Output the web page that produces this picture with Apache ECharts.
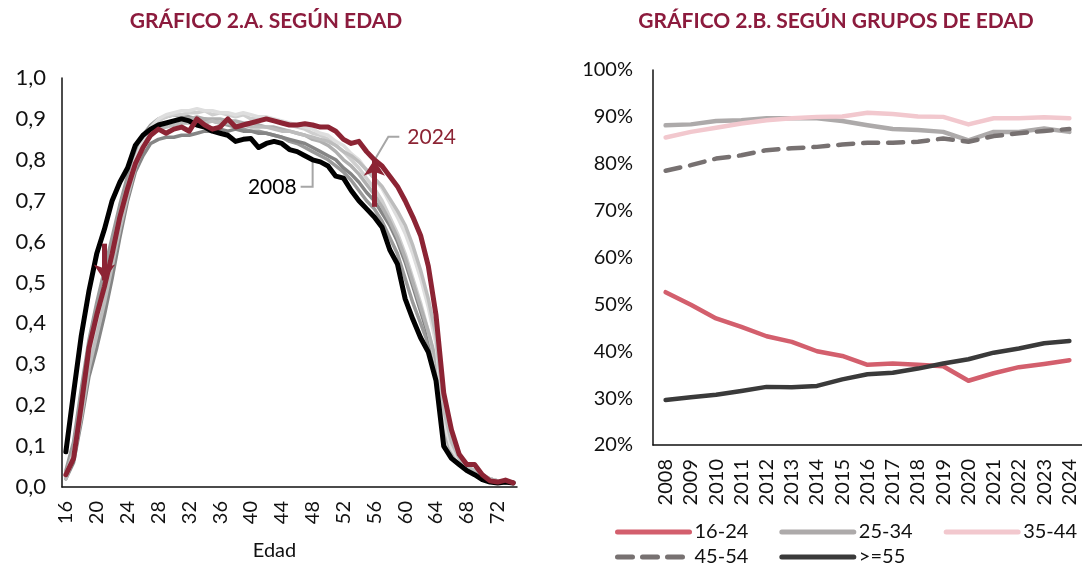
<!DOCTYPE html>
<html>
<head>
<meta charset="utf-8">
<script src="https://cdn.jsdelivr.net/npm/echarts@6/dist/echarts.min.js"></script>
<style>
  html, body { margin: 0; padding: 0; background: #fff; }
  #main { width: 1082px; height: 567px; }
</style>
</head>
<body>
<div id="main"></div>
<script>
// --- Gráfico 2.A: tasa por edad ---
const edades = ['16','17','18','19','20','21','22','23','24','25','26','27','28','29','30','31','32','33','34','35',
  '36','37','38','39','40','41','42','43','44','45','46','47','48','49','50','51','52','53','54','55',
  '56','57','58','59','60','61','62','63','64','65','66','67','68','69','70','71','72','73','74']

const y2008 = [0.086,0.23,0.37,0.48,0.57,0.63,0.70,0.745,0.78,0.835,0.86,0.875,0.885,0.89,0.895,0.90,0.895,0.885,0.88,0.87,
  0.865,0.86,0.845,0.85,0.852,0.83,0.84,0.845,0.84,0.825,0.82,0.81,0.80,0.795,0.785,0.76,0.755,0.725,0.70,0.68,
  0.66,0.635,0.58,0.545,0.46,0.41,0.365,0.33,0.26,0.10,0.07,0.055,0.04,0.03,0.018,0.012,0.01,0.012,0.01]

const y2024 = [0.03,0.07,0.20,0.34,0.42,0.49,0.57,0.66,0.73,0.79,0.83,0.86,0.875,0.865,0.875,0.88,0.87,0.90,0.885,0.875,
  0.88,0.90,0.88,0.885,0.89,0.895,0.90,0.895,0.89,0.885,0.885,0.888,0.885,0.88,0.88,0.87,0.85,0.84,0.845,0.82,
  0.80,0.785,0.76,0.735,0.70,0.66,0.615,0.54,0.42,0.23,0.14,0.08,0.055,0.055,0.03,0.015,0.012,0.017,0.01]

// años intermedios (banda gris)
const y2010 = [0.04,0.11,0.24,0.36,0.45,0.53,0.61,0.69,0.76,0.82,0.86,0.885,0.90,0.905,0.91,0.905,0.905,0.90,0.90,0.895,
  0.89,0.885,0.88,0.875,0.87,0.87,0.865,0.86,0.855,0.845,0.84,0.83,0.82,0.81,0.80,0.785,0.77,0.75,0.725,0.70,
  0.68,0.65,0.61,0.57,0.51,0.45,0.40,0.35,0.28,0.12,0.08,0.055,0.045,0.03,0.02,0.015,0.012,0.01,0.01]
const y2013 = [0.02,0.06,0.16,0.27,0.34,0.42,0.51,0.61,0.70,0.77,0.81,0.84,0.85,0.855,0.855,0.86,0.86,0.865,0.87,0.87,
  0.875,0.87,0.875,0.87,0.87,0.865,0.865,0.86,0.855,0.85,0.845,0.84,0.83,0.82,0.81,0.80,0.78,0.765,0.745,0.72,
  0.70,0.67,0.64,0.60,0.55,0.49,0.43,0.37,0.30,0.15,0.09,0.06,0.045,0.035,0.025,0.02,0.015,0.012,0.01]
const y2016 = [0.03,0.08,0.18,0.30,0.38,0.46,0.55,0.64,0.72,0.79,0.84,0.875,0.895,0.905,0.91,0.91,0.915,0.915,0.92,0.91,
  0.915,0.91,0.905,0.91,0.90,0.905,0.90,0.895,0.89,0.885,0.88,0.875,0.865,0.86,0.85,0.835,0.82,0.80,0.78,0.755,
  0.73,0.70,0.66,0.62,0.57,0.51,0.45,0.38,0.30,0.13,0.08,0.06,0.045,0.035,0.025,0.02,0.015,0.012,0.01]
const y2018 = [0.03,0.09,0.21,0.33,0.41,0.49,0.58,0.67,0.74,0.80,0.845,0.87,0.885,0.89,0.895,0.90,0.90,0.905,0.90,0.90,
  0.90,0.895,0.895,0.89,0.89,0.885,0.88,0.88,0.875,0.87,0.865,0.86,0.85,0.845,0.835,0.82,0.80,0.785,0.765,0.74,
  0.715,0.685,0.65,0.61,0.56,0.50,0.44,0.38,0.31,0.14,0.085,0.06,0.045,0.035,0.025,0.02,0.015,0.012,0.01]
const y2020 = [0.03,0.08,0.19,0.31,0.39,0.47,0.56,0.65,0.73,0.80,0.85,0.88,0.90,0.91,0.915,0.92,0.92,0.925,0.92,0.92,
  0.915,0.915,0.91,0.915,0.91,0.905,0.905,0.90,0.895,0.89,0.885,0.88,0.875,0.865,0.86,0.845,0.835,0.815,0.80,0.775,
  0.755,0.73,0.695,0.66,0.62,0.57,0.51,0.44,0.35,0.16,0.095,0.065,0.05,0.04,0.03,0.02,0.015,0.015,0.01]
const y2022 = [0.02,0.07,0.17,0.29,0.37,0.45,0.54,0.63,0.71,0.78,0.83,0.86,0.875,0.88,0.885,0.89,0.89,0.895,0.89,0.895,
  0.89,0.89,0.885,0.885,0.88,0.88,0.88,0.875,0.87,0.87,0.865,0.86,0.855,0.85,0.845,0.835,0.82,0.81,0.795,0.775,
  0.755,0.735,0.705,0.675,0.64,0.59,0.53,0.46,0.37,0.19,0.11,0.07,0.05,0.04,0.03,0.02,0.015,0.012,0.01]

const grises = [
  {name: '2010', data: y2010, color: '#9a9a9a'},
  {name: '2013', data: y2013, color: '#858585'},
  {name: '2016', data: y2016, color: '#cfcfcf'},
  {name: '2018', data: y2018, color: '#b0b0b0'},
  {name: '2020', data: y2020, color: '#dedede'},
  {name: '2022', data: y2022, color: '#bdbdbd'}
]

// --- Gráfico 2.B: por grupos de edad ---
const anios = ['2008','2009','2010','2011','2012','2013','2014','2015','2016','2017','2018','2019','2020','2021','2022','2023','2024']
const g16_24 = [52.6,49.9,47.0,45.2,43.2,42.0,40.0,39.0,37.1,37.4,37.1,36.8,33.7,35.3,36.6,37.3,38.1]
const g25_34 = [88.2,88.4,89.1,89.3,89.7,89.7,89.7,89.1,88.2,87.4,87.2,86.8,85.0,86.8,86.8,87.5,86.8]
const g35_44 = [85.6,86.8,87.7,88.6,89.3,89.7,90.0,90.1,90.9,90.6,90.1,90.0,88.4,89.7,89.7,89.9,89.7]
const g45_54 = [78.5,79.7,81.1,81.8,82.9,83.3,83.6,84.1,84.5,84.5,84.7,85.4,84.7,85.9,86.5,87.0,87.4]
const g55 = [29.6,30.2,30.7,31.5,32.4,32.3,32.6,34.0,35.1,35.4,36.3,37.4,38.3,39.7,40.6,41.7,42.2]

const ROJO = '#8c2434'
const FONT = 'Lato, "Open Sans", sans-serif'

let chart = echarts.init(document.getElementById('main'))

function lineSerie (name, data, color, width, x, extra) {
  return Object.assign({
    name: name,
    type: 'line',
    xAxisIndex: x,
    yAxisIndex: x,
    data: data,
    symbol: 'none',
    smooth: false,
    silent: true,
    lineStyle: {color: color, width: width, cap: 'round', join: 'round'},
    itemStyle: {color: color}
  }, extra || {})
}

let series = []
grises.forEach((g) => {
  series.push(lineSerie(g.name, g.data, g.color, 3.5, 0))
})
series.push(lineSerie('2008', y2008, '#000000', 5, 0))
series.push(lineSerie('2024', y2024, ROJO, 5, 0, {
  markLine: {
    silent: true,
    symbol: ['none', 'arrow'],
    symbolSize: [16, 16],
    label: {show: false},
    lineStyle: {color: ROJO, width: 5, type: 'solid'},
    data: [
      [{coord: ['56', 0.685]}, {coord: ['56', 0.80]}],
      [{coord: ['21', 0.595]}, {coord: ['21', 0.505]}]
    ]
  }
}))
series.push(lineSerie('16-24', g16_24, '#d35f6d', 4.5, 1))
series.push(lineSerie('25-34', g25_34, '#adaaaa', 4.5, 1))
series.push(lineSerie('35-44', g35_44, '#f2c8ce', 4.5, 1))
series.push(lineSerie('45-54', g45_54, '#777171', 4.5, 1, {
  lineStyle: {color: '#777171', width: 4.5, type: [15, 10], cap: 'round'}
}))
series.push(lineSerie('>=55', g55, '#3a3a3a', 4.5, 1))

const axisLabel = {color: '#111', fontFamily: FONT, fontSize: 20}
const axisLine = {show: true, lineStyle: {color: '#111', width: 1.5}}

let legendBase = {
  left: 615,
  padding: 0,
  itemWidth: 72,
  itemHeight: 14,
  itemGap: 31,
  itemStyle: {opacity: 0},
  lineStyle: {width: 5},
  textStyle: {color: '#111', fontFamily: FONT, fontSize: 20, width: 60}
}

let option = {
  animation: false,
  backgroundColor: '#fff',
  grid: [
    {left: 62, top: 78, width: 455, height: 409, outerBoundsMode: 'none', containLabel: false},
    {left: 653, top: 70, width: 429, height: 375, outerBoundsMode: 'none', containLabel: false}
  ],
  xAxis: [
    {
      type: 'category', gridIndex: 0, data: edades, boundaryGap: true,
      axisLine: axisLine, axisTick: {show: false},
      axisLabel: Object.assign({}, axisLabel, {rotate: 90, interval: 3, margin: 14}),
      name: 'Edad', nameLocation: 'middle', nameGap: 54,
      nameTextStyle: {color: '#111', fontFamily: FONT, fontSize: 20, padding: [0, 30, 0, 0]}
    },
    {
      type: 'category', gridIndex: 1, data: anios, boundaryGap: true,
      axisLine: axisLine, axisTick: {show: false},
      axisLabel: Object.assign({}, axisLabel, {rotate: 90, interval: 0, margin: 14})
    }
  ],
  yAxis: [
    {
      type: 'value', gridIndex: 0, min: 0, max: 1, interval: 0.1,
      axisLine: axisLine, axisTick: {show: false}, splitLine: {show: false},
      axisLabel: Object.assign({}, axisLabel, {
        fontSize: 22,
        margin: 16,
        formatter: (v) => v.toFixed(1).replace('.', ',')
      })
    },
    {
      type: 'value', gridIndex: 1, min: 20, max: 100, interval: 10,
      axisLine: axisLine, axisTick: {show: false}, splitLine: {show: false},
      axisLabel: Object.assign({}, axisLabel, {margin: 20, formatter: '{value}%'})
    }
  ],
  legend: [
    Object.assign({}, legendBase, {top: 522, data: ['16-24', '25-34', '35-44']}),
    Object.assign({}, legendBase, {top: 547, data: ['45-54', '>=55']})
  ],
  series: series
}

chart.setOption(option)

// anotaciones: títulos, etiquetas 2008 / 2024 con sus guías
let p08 = chart.convertToPixel({xAxisIndex: 0, yAxisIndex: 0}, ['48', 0.80])
let p24 = chart.convertToPixel({xAxisIndex: 0, yAxisIndex: 0}, ['56', 0.80])
const guia = {stroke: '#a6a6a6', lineWidth: 2, fill: null}
const tituloFont = 'bold 21px ' + FONT

chart.setOption({
  graphic: [
    {type: 'text', x: 266, y: 21, style: {text: 'GRÁFICO 2.A. SEGÚN EDAD', fill: '#8c1b3d', font: tituloFont, align: 'center', verticalAlign: 'middle'}},
    {type: 'text', x: 836, y: 21, style: {text: 'GRÁFICO 2.B. SEGÚN GRUPOS DE EDAD', fill: '#8c1b3d', font: tituloFont, align: 'center', verticalAlign: 'middle'}},
    {type: 'polyline', shape: {points: [[p08[0], p08[1]], [p08[0], p08[1] + 27], [p08[0] - 12, p08[1] + 27]]}, style: guia},
    {type: 'text', x: p08[0] - 16, y: p08[1] + 27, style: {text: '2008', fill: '#000', font: '21px ' + FONT, align: 'right', verticalAlign: 'middle'}},
    {type: 'polyline', shape: {points: [[p24[0] + 1, p24[1] - 1], [p24[0] + 14, p24[1] - 23], [p24[0] + 25, p24[1] - 23]]}, style: guia},
    {type: 'text', x: p24[0] + 33, y: p24[1] - 23, style: {text: '2024', fill: ROJO, font: '21px ' + FONT, align: 'left', verticalAlign: 'middle'}}
  ]
})

window.addEventListener('resize', () => {
  chart.resize()
})
</script>
</body>
</html>
